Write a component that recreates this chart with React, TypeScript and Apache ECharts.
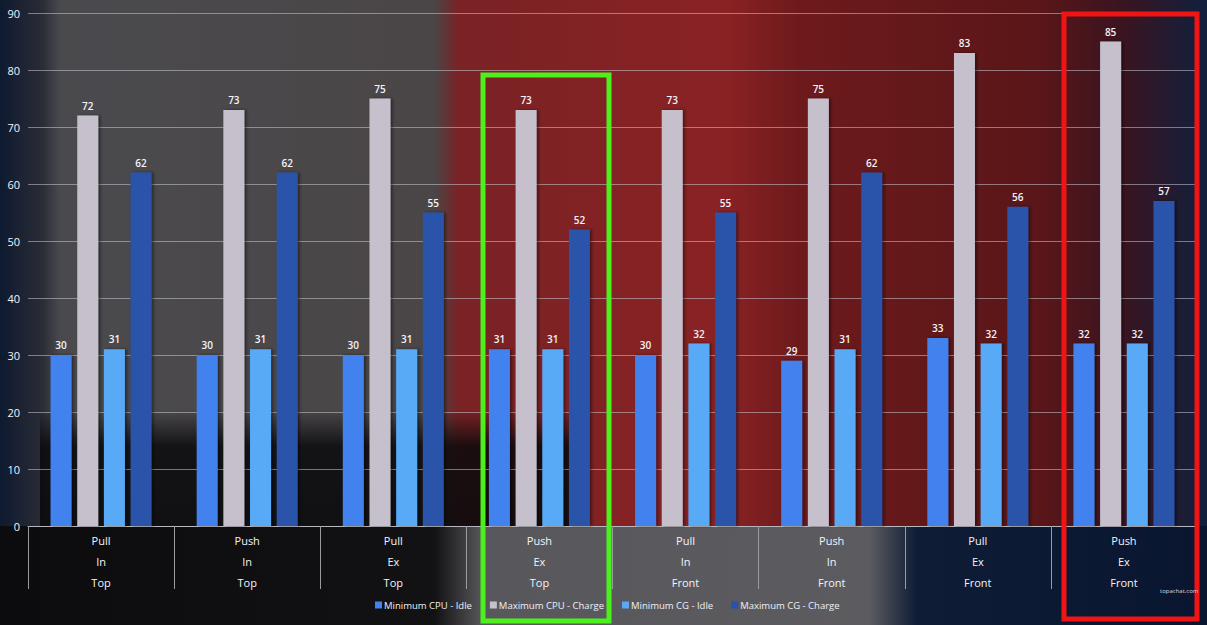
import React, { useEffect, useRef } from "react";
import * as echarts from "echarts";

const categories = [
  "Pull\nIn\nTop",
  "Push\nIn\nTop",
  "Pull\nEx\nTop",
  "Push\nEx\nTop",
  "Pull\nIn\nFront",
  "Push\nIn\nFront",
  "Pull\nEx\nFront",
  "Push\nEx\nFront",
];
const minCpuIdle = [30, 30, 30, 31, 30, 29, 33, 32];
const maxCpuCharge = [72, 73, 75, 73, 73, 75, 83, 85];
const minCgIdle = [31, 31, 31, 31, 32, 31, 32, 32];
const maxCgCharge = [62, 62, 55, 52, 55, 62, 56, 57];
const seriesNames = [
  "Minimum CPU - Idle",
  "Maximum CPU - Charge",
  "Minimum CG - Idle",
  "Maximum CG - Charge",
];
const seriesColors = ["#4282ef", "#c5c0cc", "#58aaf7", "#2a52aa"];

export default function App() {
  const ref = useRef<HTMLDivElement>(null);
  useEffect(() => {
    if (!ref.current) return;
    document.body.style.margin = "0";
    const chart = echarts.init(ref.current, null, { renderer: "svg" });
    const font = "Open Sans";
    const data = [minCpuIdle, maxCpuCharge, minCgIdle, maxCgCharge];
    const lin = (x1: number, y1: number, x2: number, y2: number, stops: [number, string][]) =>
      new echarts.graphic.LinearGradient(x1, y1, x2, y2, stops.map(([offset, color]) => ({ offset, color })));
    chart.setOption({
      animation: false,
      backgroundColor: "#2e2e33",
      textStyle: { fontFamily: font },
      graphic: [
        {
          type: "rect",
          z: -10,
          silent: true,
          shape: { x: 0, y: 0, width: 1207, height: 625 },
          style: {
            fill: lin(0, 0, 1, 0, [
              [0, "#0e1a30"],
              [0.035, "#2a2c36"],
              [0.05, "#4a4a4e"],
              [0.36, "#4a4647"],
              [0.38, "#7a2224"],
              [0.6, "#8a2224"],
              [0.66, "#6e1a1c"],
              [0.86, "#5a1618"],
              [0.93, "#3a1420"],
              [1, "#10203e"],
            ]),
          },
        },
        {
          type: "rect",
          z: -9,
          silent: true,
          shape: { x: 40, y: 410, width: 540, height: 120 },
          style: {
            fill: lin(0, 0, 0, 1, [
              [0, "rgba(10,10,12,0)"],
              [0.3, "rgba(10,10,12,0.85)"],
              [1, "rgba(10,10,12,0.9)"],
            ]),
          },
        },
        {
          type: "rect",
          z: -9,
          silent: true,
          shape: { x: 0, y: 526, width: 1207, height: 99 },
          style: {
            fill: lin(0, 0, 1, 0, [
              [0, "#0c0c0f"],
              [0.36, "#121214"],
              [0.4, "#58585c"],
              [0.72, "#5c5c60"],
              [0.76, "#0e1c36"],
              [1, "#0a1630"],
            ]),
          },
        },
        {
          type: "rect",
          z: 100,
          silent: true,
          shape: { x: 483, y: 75, width: 126, height: 546 },
          style: { fill: "none", stroke: "#4cf01c", lineWidth: 5 },
        },
        {
          type: "rect",
          z: 100,
          silent: true,
          shape: { x: 1064, y: 14, width: 133, height: 605 },
          style: { fill: "none", stroke: "#f01414", lineWidth: 5 },
        },
        {
          type: "text",
          z: 100,
          silent: true,
          left: 1160,
          top: 588,
          style: { text: "topachat.com", fill: "#d8d8e0", fontSize: 6, fontFamily: font },
        },
      ],
      grid: { left: 28, right: 10, top: 13, bottom: 99, containLabel: false },
      legend: {
        bottom: 10,
        left: 370,
        itemWidth: 7,
        itemHeight: 7,
        itemGap: 18,
        itemStyle: { borderWidth: 0 },
        icon: "rect",
        textStyle: { color: "#f0f0f4", fontSize: 9.5, fontFamily: font, padding: [0, 0, 0, -3] },
        data: seriesNames,
      },
      xAxis: {
        type: "category",
        data: categories,
        axisLine: { show: true, lineStyle: { color: "#b8b8c0", width: 1 } },
        axisTick: {
          show: true,
          interval: 0,
          length: 63,
          lineStyle: { color: "#9a9aa2", width: 1 },
        },
        axisLabel: {
          interval: 0,
          color: "#f4f4f8",
          fontSize: 11,
          lineHeight: 21,
          margin: 4,
          fontFamily: font,
        },
      },
      yAxis: {
        type: "value",
        min: 0,
        max: 90,
        interval: 10,
        axisLine: { show: false },
        axisTick: { show: false },
        axisLabel: { color: "#f4f4f8", fontSize: 11, margin: 8, fontFamily: font },
        splitLine: { lineStyle: { color: "rgba(200,200,210,0.55)", width: 1 } },
      },
      series: seriesNames.map((name, i) => ({
        name,
        type: "bar",
        data: data[i],
        barWidth: 21,
        barGap: "27%",
        itemStyle: {
          color: seriesColors[i],
          shadowColor: "rgba(0,0,0,0.45)",
          shadowBlur: 3,
          shadowOffsetX: 2,
        },
        label: {
          show: true,
          position: "top",
          distance: 5,
          color: "#f4f4f8",
          fontSize: 10,
          fontWeight: 600,
          fontFamily: font,
        },
      })),
    });
    return () => chart.dispose();
  }, []);
  return (
    <div
      ref={ref}
      style={{ position: "absolute", left: 0, top: 0, width: 1207, height: 625 }}
    />
  );
}
